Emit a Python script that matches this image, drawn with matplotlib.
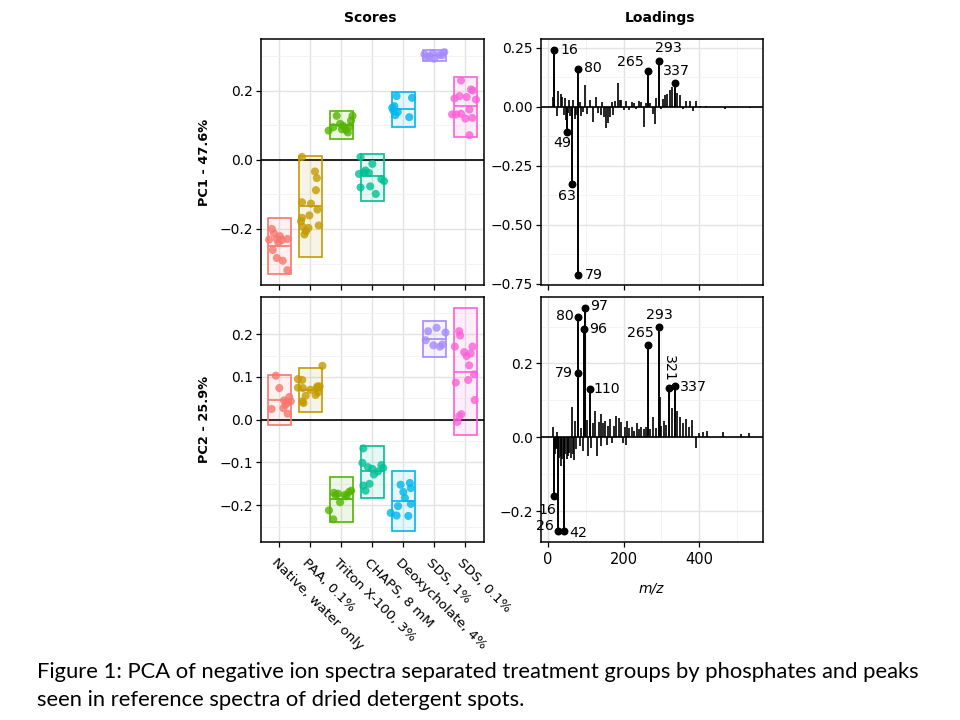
import matplotlib
matplotlib.use('Agg')
import matplotlib.pyplot as plt
from matplotlib.ticker import FixedLocator, FuncFormatter
from matplotlib.transforms import ScaledTranslation

plt.rcParams['font.family'] = ['DejaVu Sans']

# ---------------- data ----------------
groups = ["Native, water only", "PAA, 0.1%", "Triton X-100, 3%", "CHAPS, 8 mM",
          "Deoxycholate, 4%", "SDS, 1%", "SDS, 0.1%"]
colors = ['#F8766D', '#C49A00', '#53B400', '#00C094', '#00B6EB', '#A58AFF', '#FB61D7']

# PC1 scores per group, with horizontal jitter offsets
pc1_native = [-0.200, -0.213, -0.231, -0.229, -0.232, -0.229, -0.240, -0.261, -0.284, -0.292, -0.319, -0.221]
pc1_paa = [0.008, -0.034, -0.053, -0.088, -0.123, -0.127, -0.144, -0.168, -0.161, -0.194, -0.197, -0.207, -0.216, -0.190, -0.178]
pc1_triton = [0.084, 0.094, 0.127, 0.098, 0.086, 0.079, 0.113, 0.127, 0.104, 0.088, 0.096]
pc1_chaps = [0.008, -0.012, -0.041, -0.037, -0.038, -0.056, -0.062, -0.080, -0.077, -0.099, -0.031]
pc1_deoxy = [0.150, 0.142, 0.129, 0.138, 0.184, 0.179, 0.123, 0.155]
pc1_sds1 = [0.305, 0.299, 0.292, 0.303, 0.311, 0.308, 0.296, 0.302]
pc1_sds01 = [0.229, 0.203, 0.181, 0.184, 0.177, 0.174, 0.145, 0.133, 0.131, 0.131, 0.119, 0.121, 0.071, 0.200]

jit1_native = [-0.24, -0.17, -0.33, -0.08, 0.08, 0.26, -0.03, -0.21, -0.08, 0.11, 0.26, 0.02]
jit1_paa = [-0.27, 0.15, 0.21, 0.18, -0.27, 0.02, 0.23, -0.27, -0.03, -0.25, -0.06, -0.14, -0.19, 0.27, -0.30]
jit1_triton = [-0.41, -0.26, -0.15, 0.06, 0.15, 0.21, 0.31, 0.36, -0.04, 0.02, 0.28]
jit1_chaps = [-0.38, 0.0, -0.43, -0.27, -0.11, 0.29, 0.38, -0.38, -0.07, 0.11, -0.22]
jit1_deoxy = [-0.36, -0.32, -0.26, -0.18, -0.22, 0.28, 0.19, -0.29]
jit1_sds1 = [-0.32, -0.16, 0.0, 0.16, 0.32, -0.05, -0.25, 0.25]
jit1_sds01 = [-0.14, 0.18, 0.04, -0.19, -0.35, 0.34, 0.13, -0.14, -0.30, -0.43, 0.0, 0.22, 0.13, 0.24]

pc2_native = [0.103, 0.074, 0.025, 0.045, 0.053, 0.040, 0.027, 0.014, 0.043, 0.035]
pc2_paa = [0.095, 0.093, 0.075, 0.074, 0.056, 0.043, 0.039, 0.078, 0.074, 0.064, 0.058, 0.070, 0.126, 0.078]
pc2_triton = [-0.171, -0.173, -0.176, -0.169, -0.166, -0.193, -0.212, -0.233, -0.179, -0.177]
pc2_chaps = [-0.067, -0.101, -0.111, -0.115, -0.128, -0.106, -0.113, -0.121, -0.154, -0.150, -0.166]
pc2_deoxy = [-0.152, -0.148, -0.160, -0.169, -0.183, -0.197, -0.202, -0.218, -0.224, -0.225]
pc2_sds1 = [0.207, 0.215, 0.204, 0.186, 0.174, 0.171, 0.176]
pc2_sds01 = [0.207, 0.197, 0.171, 0.158, 0.149, 0.155, 0.171, 0.127, 0.106, 0.087, 0.093, 0.046, 0.013, 0.008, -0.005]

jit2_native = [-0.11, 0.0, -0.25, 0.15, 0.32, 0.26, 0.13, 0.27, 0.37, 0.20]
jit2_paa = [-0.40, -0.26, -0.40, -0.24, -0.15, -0.26, -0.22, 0.23, 0.21, 0.25, 0.17, 0.0, 0.39, 0.30]
jit2_triton = [-0.24, -0.11, 0.11, 0.25, 0.32, -0.04, -0.40, -0.26, 0.17, -0.18]
jit2_chaps = [-0.29, -0.32, -0.14, 0.0, 0.05, 0.29, 0.35, 0.18, -0.29, -0.09, -0.22]
jit2_deoxy = [-0.09, 0.21, 0.24, 0.0, 0.05, 0.24, -0.17, -0.41, -0.22, 0.16]
jit2_sds1 = [-0.20, 0.07, 0.36, -0.28, -0.03, 0.18, 0.26]
jit2_sds01 = [-0.20, -0.17, -0.34, -0.04, 0.04, 0.17, 0.23, 0.12, 0.28, -0.31, 0.09, 0.30, -0.13, -0.20, -0.26]

# crossbar summaries (centre, lower, upper)
pc1_mid = [-0.248, -0.134, 0.100, -0.048, 0.146, 0.302, 0.154]
pc1_lo = [-0.331, -0.282, 0.060, -0.119, 0.096, 0.286, 0.065]
pc1_hi = [-0.168, 0.012, 0.142, 0.018, 0.195, 0.317, 0.239]
pc2_mid = [0.046, 0.069, -0.186, -0.121, -0.191, 0.189, 0.112]
pc2_lo = [-0.012, 0.017, -0.239, -0.182, -0.261, 0.147, -0.036]
pc2_hi = [0.105, 0.122, -0.134, -0.061, -0.121, 0.230, 0.261]

# loadings spectra (unlabelled peaks)
mz_pc1 = [12, 17, 24, 27, 33, 38, 41, 44, 47, 52, 56, 59, 66, 71, 75, 84, 88, 93, 98, 103,
          110, 119, 126, 132, 139, 144, 147, 153, 159, 163, 168, 172, 177, 184, 190, 194,
          200, 207, 215, 221, 227, 234, 241, 247, 254, 260, 271, 278, 283, 287, 298, 303,
          309, 315, 322, 329, 342, 349, 358, 365, 375, 384, 391, 402, 419, 468, 534]
ld_pc1 = [0.040, 0.127, -0.040, 0.068, 0.054, 0.040, -0.035, 0.036, -0.056, -0.028, 0.028,
          -0.040, 0.028, -0.054, -0.035, 0.021, -0.040, -0.021, 0.092, -0.031, 0.028, -0.064,
          0.040, -0.025, -0.035, 0.021, -0.045, -0.092, -0.071, -0.045, 0.021, -0.035, 0.025,
          0.099, 0.028, 0.028, -0.014, 0.025, -0.014, 0.021, 0.014, -0.011, 0.025, 0.021,
          -0.085, 0.014, 0.017, -0.031, -0.073, 0.036, -0.011, 0.031, 0.049, 0.054, 0.071,
          0.082, 0.059, 0.049, -0.011, 0.025, 0.025, -0.017, 0.025, 0.005, 0.004, -0.010, -0.006]

mz_pc2 = [14, 18, 20, 22, 24, 30, 33, 35, 38, 45, 49, 52, 56, 60, 64, 66, 70, 71, 75, 84,
          88, 93, 103, 106, 115, 119, 124, 130, 134, 139, 141, 146, 152, 155, 159, 165, 170,
          174, 181, 188, 194, 199, 203, 206, 209, 215, 221, 227, 236, 241, 247, 253, 259,
          271, 278, 285, 296, 300, 306, 313, 327, 342, 349, 358, 366, 374, 380, 391, 400,
          411, 420, 464, 512, 532]
ld_pc2 = [0.028, -0.045, -0.030, -0.033, 0.013, -0.055, -0.078, -0.050, -0.060, -0.045,
          -0.060, -0.050, -0.042, -0.055, 0.081, -0.046, -0.062, 0.043, -0.033, -0.024,
          0.025, -0.038, 0.047, -0.051, -0.029, 0.039, 0.070, -0.051, 0.040, 0.064, -0.024,
          0.039, 0.043, -0.020, 0.031, 0.050, -0.015, 0.031, 0.058, 0.052, 0.040, -0.017,
          0.028, -0.022, 0.043, 0.025, 0.028, 0.016, 0.039, 0.021, 0.028, 0.021, 0.028,
          0.022, 0.055, 0.025, 0.110, 0.030, 0.043, 0.034, 0.078, 0.070, 0.056, 0.039, 0.049,
          0.028, 0.047, -0.029, 0.012, 0.013, 0.016, 0.015, 0.010, 0.012]

# labelled peaks
lab_pc1_mz = [16, 49, 63, 79, 80, 265, 293, 337]
lab_pc1_ld = [0.240, -0.106, -0.329, -0.713, 0.158, 0.153, 0.194, 0.102]
lab_pc2_mz = [16, 26, 42, 79, 80, 96, 97, 110, 265, 293, 321, 337]
lab_pc2_ld = [-0.158, -0.254, -0.254, 0.174, 0.325, 0.292, 0.350, 0.131, 0.249, 0.300, 0.134, 0.140]

pc1_vals = [pc1_native, pc1_paa, pc1_triton, pc1_chaps, pc1_deoxy, pc1_sds1, pc1_sds01]
pc1_jit = [jit1_native, jit1_paa, jit1_triton, jit1_chaps, jit1_deoxy, jit1_sds1, jit1_sds01]
pc2_vals = [pc2_native, pc2_paa, pc2_triton, pc2_chaps, pc2_deoxy, pc2_sds1, pc2_sds01]
pc2_jit = [jit2_native, jit2_paa, jit2_triton, jit2_chaps, jit2_deoxy, jit2_sds1, jit2_sds01]

# ---------------- figure ----------------
W, H = 960, 720
fig = plt.figure(figsize=(9.6, 7.2), dpi=100)
fig.patch.set_facecolor('white')


def add_ax(x0, x1, y0, y1):
    return fig.add_axes([x0 / W, 1 - y1 / H, (x1 - x0) / W, (y1 - y0) / H])


ax1 = add_ax(260.7, 484, 39, 285.3)
ax2 = add_ax(260.7, 484, 297, 542)
ax3 = add_ax(540.5, 763, 39, 285.3)
ax4 = add_ax(540.5, 763, 297, 542)

TICK = 10


def fmt(nd):
    return FuncFormatter(lambda v, p: f"{v:.{nd}f}".replace('-', '\u2212'))


def style(ax):
    for s in ax.spines.values():
        s.set_linewidth(1.1)
        s.set_color('black')
    ax.tick_params(which='major', length=3.5, width=0.9, color='black',
                   labelsize=TICK, labelcolor='black', pad=2)
    ax.tick_params(which='minor', length=0)
    ax.grid(True, which='major', color='#E3E3E3', lw=1.0)
    ax.grid(True, which='minor', color='#F1F1F1', lw=0.6)
    ax.set_axisbelow(True)
    ax.axhline(0, color='black', lw=1.2, zorder=1.5)


for ax in (ax1, ax2, ax3, ax4):
    style(ax)

xs = list(range(1, len(groups) + 1))


def scores(ax, vals, jits, mid, lo, hi):
    for i, c in enumerate(colors):
        x = xs[i]
        ax.bar(x, hi[i] - lo[i], bottom=lo[i], width=0.75, color=c, alpha=0.1,
               edgecolor='none', zorder=2)
        ax.scatter([x + j for j in jits[i]], vals[i], s=34, color=c, alpha=0.8,
                   edgecolors='none', zorder=3)
        ax.bar(x, hi[i] - lo[i], bottom=lo[i], width=0.75, fill=False,
               edgecolor=c, lw=1.2, zorder=4)
        ax.hlines(mid[i], x - 0.375, x + 0.375, color=c, lw=1.2, zorder=4)
    ax.set_xlim(0.4, 7.6)
    ax.set_xticks(xs)


scores(ax1, pc1_vals, pc1_jit, pc1_mid, pc1_lo, pc1_hi)
scores(ax2, pc2_vals, pc2_jit, pc2_mid, pc2_lo, pc2_hi)

ax1.set_ylim(-0.363, 0.349)
ax1.yaxis.set_major_locator(FixedLocator([-0.2, 0.0, 0.2]))
ax1.yaxis.set_minor_locator(FixedLocator([-0.3, -0.1, 0.1, 0.3]))
ax1.yaxis.set_major_formatter(fmt(1))
ax1.set_xticklabels([])

ax2.set_ylim(-0.286, 0.287)
ax2.yaxis.set_major_locator(FixedLocator([-0.2, -0.1, 0.0, 0.1, 0.2]))
ax2.yaxis.set_minor_locator(FixedLocator([-0.25, -0.15, -0.05, 0.05, 0.15, 0.25]))
ax2.yaxis.set_major_formatter(fmt(1))
ax2.set_xticklabels(groups, rotation=-45, ha='left', va='center',
                    rotation_mode='anchor', fontsize=9.7)
ax2.tick_params(axis='x', pad=10)
off = ScaledTranslation(-6 / 100, 0, fig.dpi_scale_trans)
for lab in ax2.get_xticklabels():
    lab.set_transform(lab.get_transform() + off)

ax1.set_ylabel('PC1 - 47.6%', fontweight='bold', fontsize=9.3)
ax2.set_ylabel('PC2 - 25.9%', fontweight='bold', fontsize=9.3)
ax1.yaxis.set_label_coords((211 - 260.7) / 223.3, 0.5)
ax2.yaxis.set_label_coords((211 - 260.7) / 223.3, 0.5)


def loadings(ax, mz, ld, lmz, lld):
    ax.vlines(mz, 0, ld, color='black', lw=1.2, zorder=2)
    ax.vlines(lmz, 0, lld, color='black', lw=1.4, zorder=2)
    ax.scatter(lmz, lld, s=22, color='black', zorder=3)
    ax.set_xlim(-20, 569)
    ax.xaxis.set_major_locator(FixedLocator([0, 200, 400]))
    ax.xaxis.set_minor_locator(FixedLocator([100, 300, 500]))


loadings(ax3, mz_pc1, ld_pc1, lab_pc1_mz, lab_pc1_ld)
loadings(ax4, mz_pc2, ld_pc2, lab_pc2_mz, lab_pc2_ld)

ax3.set_ylim(-0.757, 0.287)
ax3.yaxis.set_major_locator(FixedLocator([-0.75, -0.5, -0.25, 0.0, 0.25]))
ax3.yaxis.set_minor_locator(FixedLocator([-0.625, -0.375, -0.125, 0.125]))
ax3.yaxis.set_major_formatter(fmt(2))
ax3.set_xticklabels([])

ax4.set_ylim(-0.284, 0.380)
ax4.yaxis.set_major_locator(FixedLocator([-0.2, 0.0, 0.2]))
ax4.yaxis.set_minor_locator(FixedLocator([-0.1, 0.1, 0.3]))
ax4.yaxis.set_major_formatter(fmt(1))
ax4.tick_params(axis='x', labelsize=10.5, pad=4)

# label offsets in pixels (dx right, dy up) and alignment
px = 72 / 100.0
lab1_style = [(6, 0, 'left', 'center', 0), (-4, -11, 'center', 'center', 0),
              (-5, -12, 'center', 'center', 0), (7, 0, 'left', 'center', 0),
              (6, 1, 'left', 'center', 0), (-4, 9, 'right', 'center', 0),
              (10, 13, 'center', 'center', 0), (1, 12, 'center', 'center', 0)]
lab2_style = [(-7, -14, 'center', 'center', 0), (-4, 5, 'right', 'center', 0),
              (5, -2, 'left', 'center', 0), (-5, 0, 'right', 'center', 0),
              (-5, 1, 'right', 'center', 0), (5, 0, 'left', 'center', 0),
              (5, 2, 'left', 'center', 0), (4, 0, 'left', 'center', 0),
              (-8, 12, 'center', 'center', 0), (1, 12, 'center', 'center', 0),
              (0, 19, 'center', 'center', -90), (5, -1, 'left', 'center', 0)]

for ax, lmz, lld, sty in ((ax3, lab_pc1_mz, lab_pc1_ld, lab1_style),
                          (ax4, lab_pc2_mz, lab_pc2_ld, lab2_style)):
    for m, v, (dx, dy, ha, va, rot) in zip(lmz, lld, sty):
        ax.annotate(str(m), (m, v), xytext=(dx * px, dy * px), textcoords='offset points',
                    ha=ha, va=va, rotation=rot, fontsize=10.2, zorder=5)

fig.text(651.7 / W, 1 - 588 / H, 'm/z', style='italic', fontsize=10, ha='center', va='center')
fig.text(370 / W, 1 - 18 / H, 'Scores', fontweight='bold', fontsize=10, ha='center', va='center')
fig.text(660 / W, 1 - 18 / H, 'Loadings', fontweight='bold', fontsize=10, ha='center', va='center')

cap1 = "Figure 1: PCA of negative ion spectra separated treatment groups by phosphates and peaks"
cap2 = "seen in reference spectra of dried detergent spots."
fig.text(37 / W, 1 - 672 / H, cap1, fontsize=15.8, family=['Lato', 'DejaVu Sans'], va='center', ha='left')
fig.text(37 / W, 1 - 700 / H, cap2, fontsize=15.8, family=['Lato', 'DejaVu Sans'], va='center', ha='left')

fig.savefig('out.png', dpi=100, facecolor='white')
